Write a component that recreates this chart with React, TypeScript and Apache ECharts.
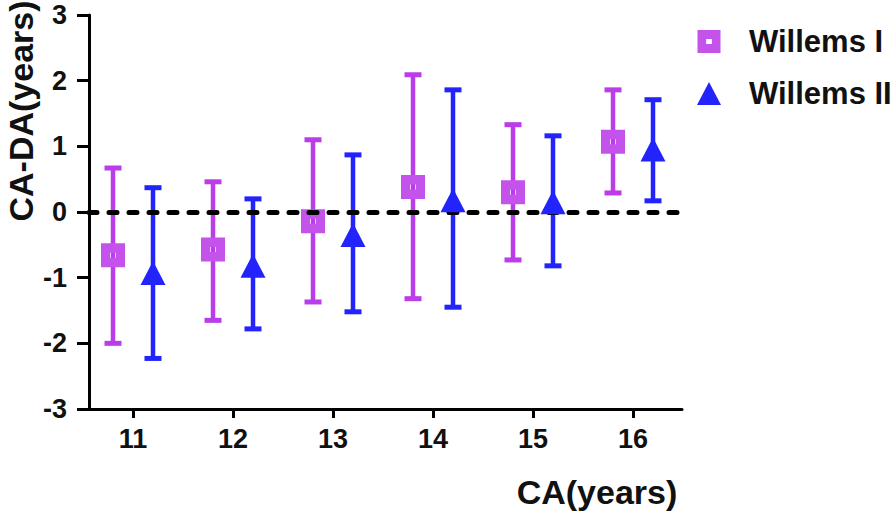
import React, { useEffect, useRef } from "react";
import * as echarts from "echarts";

const categories = [11, 12, 13, 14, 15, 16];
const w1Mean = [-0.66, -0.57, -0.14, 0.38, 0.3, 1.07];
const w1Upper = [0.67, 0.46, 1.1, 2.09, 1.33, 1.86];
const w1Lower = [-2.0, -1.65, -1.37, -1.32, -0.73, 0.29];
const w2Mean = [-0.93, -0.82, -0.35, 0.18, 0.15, 0.95];
const w2Upper = [0.37, 0.2, 0.87, 1.86, 1.16, 1.71];
const w2Lower = [-2.23, -1.78, -1.52, -1.45, -0.82, 0.17];
const yTicks = [-3, -2, -1, 0, 1, 2, 3];

const OFFSET = 0.2;
const PURPLE = "#bb3ce9";
const PURPLE_MARK = "#c453ec";
const BLUE = "#2323fc";
const FONT = "'Liberation Sans', Arial, sans-serif";
const SQUARE = "path://M0,0H24V24H0Z M9,9.5V14.5H15V9.5Z";

function errorSeries(name: string, mean: number[], lo: number[], hi: number[], dx: number, color: string) {
  return {
    type: "custom",
    name,
    z: 2,
    data: categories.map((c, i) => [c + dx, lo[i], hi[i], mean[i]]),
    encode: { x: 0, y: [1, 2] },
    renderItem: (params: any, api: any) => {
      const x = api.value(0);
      const top = api.coord([x, api.value(2)]);
      const bot = api.coord([x, api.value(1)]);
      const hw = 8.5;
      const style = { stroke: color, lineWidth: 4.5 };
      const capStyle = { stroke: color, lineWidth: 5 };
      return {
        type: "group",
        children: [
          { type: "line", shape: { x1: top[0], y1: top[1], x2: bot[0], y2: bot[1] }, style },
          { type: "line", shape: { x1: top[0] - hw, y1: top[1], x2: top[0] + hw, y2: top[1] }, style: capStyle },
          { type: "line", shape: { x1: bot[0] - hw, y1: bot[1], x2: bot[0] + hw, y2: bot[1] }, style: capStyle },
        ],
      };
    },
  };
}

export default function App() {
  const ref = useRef<HTMLDivElement>(null);
  useEffect(() => {
    if (!ref.current) return;
    const chart = echarts.init(ref.current, null, { renderer: "svg" });
    chart.setOption({
      animation: false,
      backgroundColor: "#ffffff",
      textStyle: { fontFamily: FONT },
      grid: { left: 89, right: 214, top: 15, bottom: 102 },
      legend: {
        data: ["Willems I", "Willems II"],
        orient: "vertical",
        left: 692,
        top: 21,
        itemWidth: 24,
        itemHeight: 23,
        itemGap: 21,
        textStyle: { fontFamily: FONT, fontWeight: "bold", fontSize: 31, color: "#111", padding: [0, 0, 0, 23] },
      },
      xAxis: {
        type: "value",
        min: 10.56,
        max: 16.49,
        splitLine: { show: false },
        axisLine: { onZero: false, lineStyle: { color: "#000", width: 3 } },
        axisTick: { length: 9, lineStyle: { color: "#000", width: 3 }, customValues: categories },
        axisLabel: {
          customValues: categories,
          margin: 16,
          fontSize: 27,
          fontWeight: "bold",
          color: "#111",
          fontFamily: FONT,
        },
      },
      yAxis: {
        type: "value",
        min: -3,
        max: 3,
        interval: 1,
        splitLine: { show: false },
        axisLine: { show: true, lineStyle: { color: "#000", width: 3 } },
        axisTick: { show: true, length: 12, lineStyle: { color: "#000", width: 3 }, customValues: yTicks },
        axisLabel: { customValues: yTicks, margin: 22, fontSize: 27, fontWeight: "bold", color: "#111", fontFamily: FONT },
      },
      graphic: [
        {
          type: "text",
          x: 21,
          y: 111,
          rotation: Math.PI / 2,
          style: {
            text: "CA-DA(years)",
            align: "center",
            verticalAlign: "middle",
            font: `bold 34px ${FONT}`,
            fill: "#111",
          },
        },
        {
          type: "text",
          x: 597,
          y: 492,
          style: {
            text: "CA(years)",
            align: "center",
            verticalAlign: "middle",
            font: `bold 34px ${FONT}`,
            fill: "#111",
          },
        },
      ],
      series: [
        errorSeries("Willems I error", w1Mean, w1Lower, w1Upper, -OFFSET, PURPLE),
        errorSeries("Willems II error", w2Mean, w2Lower, w2Upper, OFFSET, BLUE),
        {
          type: "scatter",
          name: "Willems I",
          z: 3,
          symbol: SQUARE,
          symbolSize: 24,
          itemStyle: { color: PURPLE_MARK, opacity: 1 },
          data: categories.map((c, i) => [c - OFFSET, w1Mean[i]]),
          markLine: {
            silent: true,
            symbol: "none",
            label: { show: false },
            z: 4,
            lineStyle: { color: "#000", width: 5, type: [8, 12], cap: "round" },
            data: [{ yAxis: 0 }],
          },
        },
        {
          type: "scatter",
          name: "Willems II",
          z: 5,
          symbol: "triangle",
          symbolSize: [25, 24],
          itemStyle: { color: BLUE, opacity: 1 },
          data: categories.map((c, i) => [c + OFFSET, w2Mean[i]]),
        },
      ],
    });
    return () => chart.dispose();
  }, []);
  return <div ref={ref} style={{ position: "fixed", left: 0, top: 0, width: 896, height: 511 }} />;
}
